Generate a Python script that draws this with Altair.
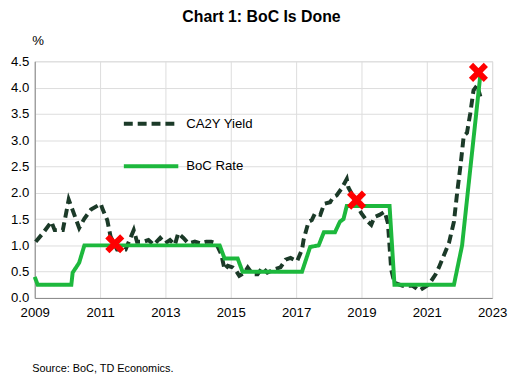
import altair as alt
import pandas as pd

# ---- data ----
yld_years = [2009.03, 2009.25, 2009.51, 2009.61, 2009.86, 2010.04, 2010.16, 2010.36, 2010.52, 2010.72,
             2011.02, 2011.07, 2011.22, 2011.32, 2011.52, 2011.78, 2012.03, 2012.13, 2012.33, 2012.48,
             2012.64, 2012.84, 2012.99, 2013.14, 2013.29, 2013.39, 2013.55, 2013.70, 2013.90, 2014.05,
             2014.25, 2014.40, 2014.55, 2014.71, 2014.81, 2014.91, 2015.06, 2015.16, 2015.26, 2015.42,
             2015.52, 2015.67, 2015.82, 2015.97, 2016.12, 2016.32, 2016.52, 2016.68, 2016.83, 2017.03,
             2017.18, 2017.23, 2017.38, 2017.48, 2017.58, 2017.74, 2017.86, 2018.04, 2018.14, 2018.24,
             2018.39, 2018.55, 2018.60, 2018.73, 2018.85, 2019.00, 2019.15, 2019.30, 2019.40, 2019.55,
             2019.71, 2019.81, 2019.86, 2019.91, 2020.01, 2020.26, 2020.57, 2020.77, 2021.07, 2021.27,
             2021.37, 2021.68, 2021.83, 2021.93, 2022.03, 2022.13, 2022.23, 2022.33, 2022.43, 2022.54,
             2022.64]
yld_values = [1.07, 1.23, 1.45, 1.29, 1.29, 1.87, 1.67, 1.33, 1.51, 1.68,
              1.79, 1.70, 1.48, 1.17, 0.92, 0.92, 1.29, 1.07, 1.07, 1.10,
              1.01, 1.14, 1.04, 1.10, 1.01, 1.23, 1.14, 1.04, 1.07, 1.04,
              1.07, 1.07, 1.04, 0.83, 0.54, 0.61, 0.58, 0.52, 0.42, 0.48,
              0.58, 0.45, 0.45, 0.58, 0.48, 0.54, 0.58, 0.73, 0.76, 0.70,
              0.92, 1.11, 1.45, 1.48, 1.61, 1.58, 1.79, 1.82, 1.92, 1.95,
              2.08, 2.26, 2.10, 1.95, 1.76, 1.61, 1.48, 1.39, 1.54, 1.58,
              1.64, 1.42, 0.98, 0.54, 0.29, 0.23, 0.23, 0.14, 0.26, 0.45,
              0.58, 1.05, 1.45, 2.01, 2.51, 3.08, 3.14, 3.51, 3.95, 4.04,
              3.83]

boc_years = [2009.00, 2009.09, 2010.12, 2010.16, 2010.36, 2010.52, 2014.66, 2014.81, 2015.21, 2015.36,
             2017.18, 2017.43, 2017.69, 2017.85, 2018.19, 2018.34, 2018.45, 2018.55, 2019.86, 2020.01,
             2021.83, 2022.08, 2022.64]
boc_values = [0.40, 0.25, 0.25, 0.48, 0.67, 1.00, 1.00, 0.75, 0.75, 0.50,
              0.50, 0.97, 1.00, 1.25, 1.25, 1.45, 1.50, 1.75, 1.75, 0.25,
              0.25, 1.00, 4.25]

marker_years = [2011.45, 2018.85, 2022.58]
marker_values = [1.03, 1.86, 4.29]

series_names = ["CA2Y Yield", "BoC Rate"]
x_ticks = [2009, 2011, 2013, 2015, 2017, 2019, 2021, 2023]
y_ticks = [0, 0.5, 1.0, 1.5, 2.0, 2.5, 3.0, 3.5, 4.0, 4.5]

FONT = "Liberation Sans"
DARK = "#1B3A28"
GREEN = "#1DB83D"
FS = 13.3

lines_df = pd.concat([
    pd.DataFrame({"year": yld_years, "value": yld_values, "series": series_names[0], "order": 1}),
    pd.DataFrame({"year": boc_years, "value": boc_values, "series": series_names[1], "order": 0}),
], ignore_index=True)
markers_df = pd.DataFrame({"year": marker_years, "value": marker_values})

x_enc = alt.X("year:Q", scale=alt.Scale(domain=[2009, 2023], nice=False, zero=False),
              axis=alt.Axis(values=x_ticks, format="d", ticks=False, labelPadding=8,
                            labelFontSize=FS, labelFont=FONT, labelColor="black",
                            labelOverlap=False, labelFlush=False,
                            title="Source:  BoC, TD Economics.", titleAnchor="start",
                            titleAlign="left", titleX=-3, titleY=71, titleBaseline="middle",
                            titleFontSize=11, titleFontWeight="normal"))
y_enc = alt.Y("value:Q", scale=alt.Scale(domain=[0, 4.5], nice=False),
              axis=alt.Axis(values=y_ticks, format=".1f", ticks=False, labelPadding=6,
                            labelFontSize=FS, labelFont=FONT, labelColor="black",
                            labelOverlap=False, labelFlush=False,
                            title="%", titleAngle=0, titleAlign="left", titleX=-3, titleY=-14,
                            titleBaseline="bottom", titleFontSize=FS, titleFontWeight="normal"))

leg = alt.Legend(title=None, orient="none", legendX=88, legendY=56,
                 symbolType="stroke", symbolSize=3025, symbolStrokeWidth=4,
                 clipHeight=14, rowPadding=29, labelOffset=6, padding=0,
                 labelFontSize=FS, labelFont=FONT, labelColor="black")

lines = alt.Chart(lines_df).mark_line(strokeWidth=4, strokeCap="butt", strokeJoin="miter").encode(
    x=x_enc,
    y=y_enc,
    color=alt.Color("series:N", scale=alt.Scale(domain=series_names, range=[DARK, GREEN]), legend=leg),
    strokeDash=alt.StrokeDash("series:N", scale=alt.Scale(domain=series_names, range=[[9, 5], [1, 0]]),
                              legend=leg),
    order=alt.Order("order:Q"),
    detail="series:N",
)

markers = alt.Chart(markers_df).mark_point(
    shape="M-1,-1L1,1M-1,1L1,-1", size=225, strokeWidth=6, color="#FF0000", opacity=1,
    filled=False, strokeCap="butt"
).encode(x=x_enc, y=y_enc)

chart = alt.layer(lines, markers).properties(
    width=462, height=239,
    autosize=alt.AutoSizeParams(type="none"),
    padding={"left": 27, "top": 52, "right": 16, "bottom": 78},
    title=alt.TitleParams("Chart 1: BoC Is Done", fontSize=16, fontWeight="bold", font=FONT,
                          anchor="middle", frame="group", baseline="alphabetic",
                          offset=13, dy=17, dx=-2, color="black"),
).configure_view(stroke=None).configure_axis(
    grid=False, domainColor="#1a1a1a", domainWidth=2, titleFont=FONT, titleColor="black"
).configure(background="white")

chart.save("out.html", embed_options={"renderer": "svg", "actions": False})
